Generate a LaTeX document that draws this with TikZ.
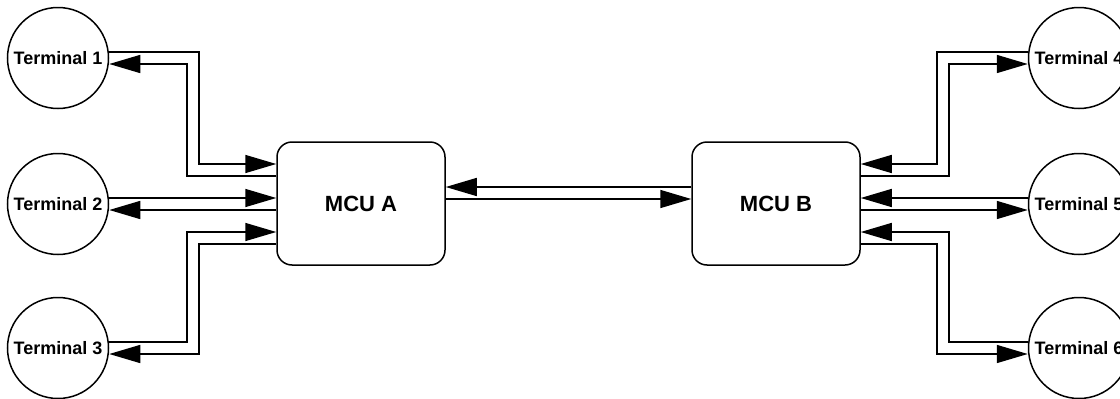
\documentclass[tikz,border=0pt]{standalone}
\usepackage{fontspec}
\setmainfont{Liberation Sans}
\usetikzlibrary{arrows.meta}
\begin{document}
\begin{tikzpicture}[x=1pt,y=-1pt,
 term/.style={circle, draw, line width=1.5pt, minimum size=101pt, inner sep=0pt, font=\bfseries\fontsize{18}{20}\selectfont},
 mcu/.style={draw, rounded corners=15pt, line width=1.5pt, minimum width=168pt, minimum height=123pt, font=\bfseries\fontsize{22}{24}\selectfont},
 link/.style={line width=1.5pt},
 arr/.style={link, -{Triangle[length=31pt,width=18pt]}}]
\useasboundingbox (0,0) rectangle (1120,399);
\node[term] (t1) at (58,58) {Terminal 1};
\node[term] (t2) at (58,204) {Terminal 2};
\node[term] (t3) at (58,348) {Terminal 3};
\node[term] (t4) at (1079,58) {Terminal 4};
\node[term] (t5) at (1079,204) {Terminal 5};
\node[term] (t6) at (1079,348) {Terminal 6};
\node[mcu] (ma) at (361,203.5) {MCU A};
\node[mcu] (mb) at (776,203.5) {MCU B};
% left side
\draw[arr] (t1.east |- 0,52) -| (199,164) -- (ma.west |- 0,164);
\draw[arr] (ma.west |- 0,176) -| (187,64) -- (t1.east |- 0,64);
\draw[arr] (t2.east |- 0,198) -- (ma.west |- 0,198);
\draw[arr] (ma.west |- 0,210) -- (t2.east |- 0,210);
\draw[arr] (t3.east |- 0,342) -| (187,232) -- (ma.west |- 0,232);
\draw[arr] (ma.west |- 0,244) -| (199,354) -- (t3.east |- 0,354);
% MCU link
\draw[arr] (mb.west |- 0,187) -- (ma.east |- 0,187);
\draw[arr] (ma.east |- 0,199) -- (mb.west |- 0,199);
% right side
\draw[arr] (t4.west |- 0,52) -| (937,164) -- (mb.east |- 0,164);
\draw[arr] (mb.east |- 0,176) -| (949,64) -- (t4.west |- 0,64);
\draw[arr] (t5.west |- 0,198) -- (mb.east |- 0,198);
\draw[arr] (mb.east |- 0,210) -- (t5.west |- 0,210);
\draw[arr] (t6.west |- 0,342) -| (949,232) -- (mb.east |- 0,232);
\draw[arr] (mb.east |- 0,244) -| (937,354) -- (t6.west |- 0,354);
\end{tikzpicture}
\end{document}
